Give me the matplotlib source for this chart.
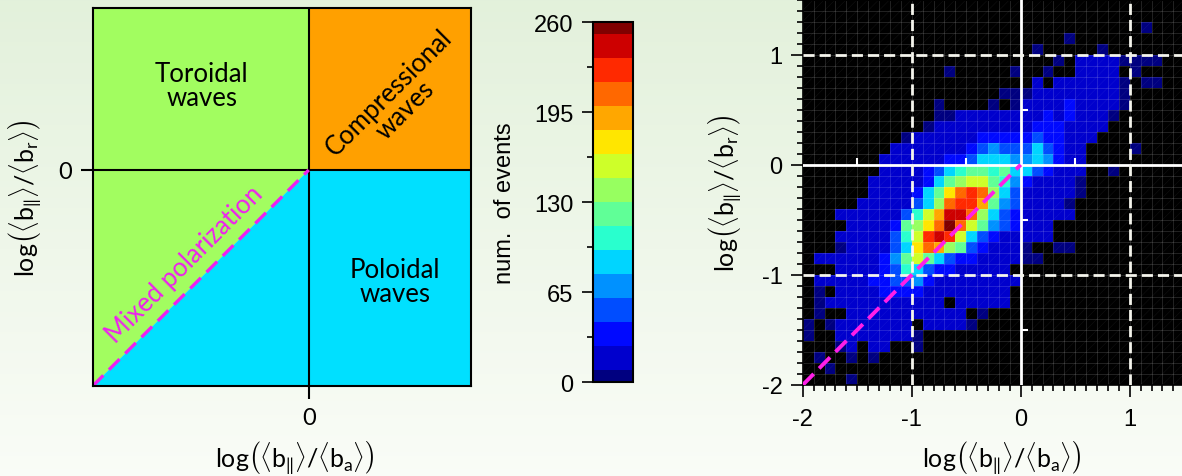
import numpy as np
import matplotlib
matplotlib.use('Agg')
import matplotlib.pyplot as plt
from matplotlib.colors import ListedColormap, BoundaryNorm
from matplotlib.ticker import MultipleLocator
from matplotlib.collections import LineCollection

plt.rcParams['font.family'] = 'Liberation Sans'
plt.rcParams['axes.unicode_minus'] = False
plt.rcParams['mathtext.fontset'] = 'custom'
plt.rcParams['mathtext.rm'] = 'Lato'
plt.rcParams['mathtext.it'] = 'Lato'
plt.rcParams['mathtext.sf'] = 'Lato'

# ---- data ----------------------------------------------------------------
# histogram bins: log(<b_par>/<b_a>) on x, log(<b_par>/<b_r>) on y, step 0.1
x_edges = np.round(np.arange(-2.0, 1.5001, 0.1), 2)
y_edges = np.round(np.arange(-2.0, 1.5001, 0.1), 2)

# number of events per bin, top row (y = 1.4..1.5) first, x from -2 to 1.5
counts_top_down = [
    [0,0,0,0,0,  0,0,0,0,0,  0,0,0,0,0,  0,0,0,0,0,  0,0,0,0,0,  0,0,0,0,0,  0,0,0,0,0],
    [0,0,0,0,0,  0,0,0,0,0,  0,0,0,0,0,  0,0,0,0,0,  0,0,0,0,0,  0,0,0,0,0,  0,0,0,0,0],
    [0,0,0,0,0,  0,0,0,0,0,  0,0,0,0,0,  0,0,0,0,0,  0,0,0,0,0,  0,0,0,0,0,  0,5,0,0,0],
    [0,0,0,0,0,  0,0,0,0,0,  0,0,0,0,0,  0,0,0,0,0,  0,0,0,0,5,  0,0,0,0,0,  0,0,0,0,0],
    [0,0,0,0,0,  0,0,0,0,0,  0,0,0,0,0,  0,0,0,0,0,  0,5,0,0,0,  0,0,5,0,0,  0,0,0,0,0],
    [0,0,0,0,0,  0,0,0,0,0,  0,0,0,0,0,  0,0,0,0,0,  0,0,0,5,0,  17,17,17,17,5,  5,5,5,0,0],
    [0,0,0,0,0,  0,0,0,0,0,  0,0,0,5,0,  0,0,0,0,5,  0,0,5,0,0,  17,17,17,17,0,  5,0,0,0,0],
    [0,0,0,0,0,  0,0,0,0,0,  0,0,0,0,0,  0,0,0,0,0,  0,17,0,17,17,  17,17,17,17,5,  0,5,5,0,0],
    [0,0,0,0,0,  0,0,0,0,0,  0,0,0,0,0,  0,0,0,5,5,  5,17,17,17,17,  17,17,17,17,5,  0,0,0,0,0],
    [0,0,0,0,0,  0,0,0,0,0,  0,0,5,0,0,  0,0,5,0,5,  17,17,17,17,35,  17,17,17,17,5,  0,0,0,0,0],
    [0,0,0,0,0,  0,0,0,0,0,  0,0,5,5,17,  17,17,17,17,17,  17,17,35,17,35,  17,17,17,5,0,  0,0,0,0,0],
    [0,0,0,0,0,  0,0,0,0,0,  0,5,17,17,17,  17,17,17,17,17,  17,35,35,35,17,  17,17,17,0,0,  0,0,0,0,0],
    [0,0,0,0,0,  0,0,0,0,5,  17,17,17,17,17,  17,35,35,35,35,  35,52,35,35,17,  17,17,0,0,0,  0,0,0,0,0],
    [0,0,0,0,0,  0,0,0,17,17,  17,17,17,17,17,  35,52,69,52,52,  52,87,52,35,17,  17,0,0,0,0,  5,0,0,0,0],
    [0,0,0,0,0,  0,0,17,17,17,  17,17,17,35,35,  52,87,87,87,69,  69,87,69,35,17,  17,0,0,0,0,  0,0,0,0,0],
    [0,0,0,0,0,  0,0,17,17,17,  17,35,52,87,104,  121,121,104,121,87,  87,52,35,17,17,  17,0,0,5,0,  0,0,0,0,0],
    [0,0,0,0,0,  0,17,17,17,17,  17,35,87,121,139,  156,156,121,104,69,  35,17,17,17,17,  5,0,0,0,0,  0,0,0,0,0],
    [0,0,0,0,0,  0,17,17,17,17,  35,87,121,173,208,  225,208,139,87,52,  17,17,17,17,17,  5,0,0,0,0,  0,0,0,0,0],
    [0,0,0,0,0,  17,17,17,17,17,  52,87,139,208,225,  225,191,121,69,52,  17,17,17,17,5,  0,0,0,0,0,  0,0,0,0,0],
    [0,0,0,17,17,  17,17,17,17,52,  104,156,191,243,243,  208,139,87,52,35,  17,17,17,17,17,  0,0,0,0,0,  0,0,0,0,0],
    [0,0,0,0,17,  17,17,17,35,121,  139,173,208,256,208,  156,121,69,52,35,  17,17,17,0,0,  0,0,0,0,0,  0,0,0,0,0],
    [0,0,0,17,17,  17,17,17,52,104,  156,225,243,225,156,  87,52,35,17,17,  17,17,17,0,0,  0,0,0,0,0,  0,0,0,0,0],
    [0,0,0,5,17,  17,17,17,52,87,  173,208,191,139,121,  52,35,17,17,17,  5,0,0,5,5,  0,0,0,0,0,  0,0,0,0,0],
    [0,17,17,17,17,  17,17,35,69,121,  156,121,87,52,35,  35,17,17,17,17,  5,5,0,0,0,  0,0,0,0,0,  0,0,0,0,0],
    [0,0,0,17,17,  17,17,35,52,104,  87,52,35,35,17,  17,17,17,17,0,  0,0,0,0,0,  0,0,0,0,0,  0,0,0,0,0],
    [0,17,17,17,17,  17,35,35,52,52,  69,35,17,17,17,  17,17,17,17,17,  0,0,0,0,0,  0,0,0,0,0,  0,0,0,0,0],
    [0,5,0,17,17,  17,17,35,35,35,  35,17,17,17,17,  17,17,17,17,0,  0,0,0,0,0,  0,0,0,0,0,  0,0,0,0,0],
    [0,5,17,17,17,  17,17,17,17,17,  17,17,17,0,17,  17,17,17,17,0,  0,0,0,0,0,  0,0,0,0,0,  0,0,0,0,0],
    [0,5,0,0,17,  17,17,17,17,17,  17,17,17,17,17,  0,5,0,0,0,  0,0,0,0,0,  0,0,0,0,0,  0,0,0,0,0],
    [5,0,5,17,17,  17,17,17,17,17,  0,17,17,17,17,  5,0,0,0,0,  0,0,0,0,0,  0,0,0,0,0,  0,0,0,0,0],
    [5,0,0,17,17,  17,17,17,17,17,  5,0,0,0,0,  0,0,0,0,0,  0,0,0,0,0,  0,0,0,0,0,  0,0,0,0,0],
    [0,0,0,5,17,  0,17,17,0,0,  5,0,0,0,0,  0,0,0,0,0,  0,0,0,0,0,  0,0,0,0,0,  0,0,0,0,0],
    [0,5,0,0,5,  0,5,0,0,0,  0,0,0,0,0,  0,0,0,0,0,  0,0,0,0,0,  0,0,0,0,0,  0,0,0,0,0],
    [0,0,5,0,0,  0,0,0,0,0,  0,0,0,0,0,  0,0,0,0,0,  0,0,0,0,0,  0,0,0,0,0,  0,0,0,0,0],
    [0,0,0,0,5,  0,0,0,0,0,  0,0,0,0,0,  0,0,0,0,0,  0,0,0,0,0,  0,0,0,0,0,  0,0,0,0,0],
]

cbar_ticks = [0, 65, 130, 195, 260]
cbar_max = 260
n_levels = 16

toroidal_color = '#a2fd60'
compress_color = '#ffa000'
poloidal_color = '#00e0ff'
magenta = '#ee22ee'

counts = np.array(counts_top_down[::-1], dtype=float)

# ---- figure --------------------------------------------------------------
fig = plt.figure(figsize=(11.82, 4.77), dpi=100)

# soft green-to-white background
bg = fig.add_axes([0, 0, 1, 1])
grad = np.linspace(0, 1, 256)[:, None]
top_c = np.array([0.89, 0.945, 0.86])
bot_c = np.array([0.98, 0.99, 0.97])
bg.imshow(top_c + grad[..., None] * (bot_c - top_c), aspect='auto',
          extent=[0, 1, 0, 1])
bg.axis('off')

xlab = (r'$\mathrm{log}\left(\langle\mathrm{b}_{\|}\rangle/'
        r'\langle\mathrm{b}_{\mathrm{a}}\rangle\right)$')
ylab = (r'$\mathrm{log}\left(\langle\mathrm{b}_{\|}\rangle/'
        r'\langle\mathrm{b}_{\mathrm{r}}\rangle\right)$')

# ---- left: sketch of the regions ----------------------------------------
ax1 = fig.add_axes([92.7 / 1182, 1 - 387 / 477, 378 / 1182, 378 / 477])
ax1.set_xlim(-2, 1.5)
ax1.set_ylim(-2, 1.5)
ax1.fill([-2, -2, 0, 0], [-2, 1.5, 1.5, 0], color=toroidal_color, lw=0)
ax1.fill([0, 1.5, 1.5, 0], [0, 0, 1.5, 1.5], color=compress_color, lw=0)
ax1.fill([-2, 0, 1.5, 1.5], [-2, 0, 0, -2], color=poloidal_color, lw=0)
ax1.axhline(0, color='black', lw=1.5)
ax1.axvline(0, color='black', lw=1.5)
ax1.plot([-2, 0], [-2, 0], color=magenta, lw=2.4, ls=(0, (4.5, 2.4)))
for s in ax1.spines.values():
    s.set_linewidth(1.5)
ax1.set_xticks([0])
ax1.set_yticks([0])
ax1.set_xticklabels(['0'], family='Lato', fontsize=17)
ax1.set_yticklabels(['0'], family='Lato', fontsize=17)
ax1.tick_params(length=9, width=1.5, pad=6)

ax1.text(-0.99, 0.78, 'Toroidal\nwaves', ha='center', va='center',
         fontsize=18.5, family='Lato', linespacing=0.95)
ax1.text(0.80, -1.03, 'Poloidal\nwaves', ha='center', va='center',
         fontsize=18.5, family='Lato', linespacing=0.95)
ax1.text(0.82, 0.64, 'Compressional\nwaves', ha='center', va='center',
         fontsize=18.5, family='Lato', linespacing=0.95, rotation=45)
ax1.text(-1.15, -0.87, 'Mixed polarization', ha='center', va='center',
         fontsize=18.5, family='Lato', color=magenta, rotation=45)

fig.text(295 / 1182, 1 - 458 / 477, xlab, ha='center', va='center', fontsize=18)
fig.text(25 / 1182, 1 - 198 / 477, ylab, ha='center', va='center', fontsize=18,
         rotation=90)

# ---- right: 2-D histogram ------------------------------------------------
jet = plt.get_cmap('jet')
cmap = ListedColormap(jet(np.linspace(0, 1, n_levels)))
step = cbar_max / (n_levels - 1)
bounds = np.concatenate([[0], step / 2 + step * np.arange(n_levels - 1), [cbar_max]])
norm = BoundaryNorm(bounds, n_levels)

ax2 = fig.add_axes([802.7 / 1182, 1 - 386 / 477, 381.5 / 1182, 385.5 / 477])
ax2.set_facecolor('black')
mesh = ax2.pcolormesh(x_edges, y_edges, np.ma.masked_equal(counts, 0),
                      cmap=cmap, norm=norm, zorder=1)
ax2.set_xlim(-2, 1.5)
ax2.set_ylim(-2, 1.5)

# faint grid and diagonal texture
ax2.xaxis.set_minor_locator(MultipleLocator(0.1))
ax2.yaxis.set_minor_locator(MultipleLocator(0.1))
ax2.grid(which='both', color='white', alpha=0.16, lw=0.6, zorder=2)
segs = [[(c - 4, -4), (c + 4, 4)] for c in np.arange(-4, 4, 0.1)]
ax2.add_collection(LineCollection(segs, colors=[(1, 1, 1, 0.06)], lw=0.5, zorder=2))

ax2.axhline(0, color='white', lw=2.0, zorder=3)
ax2.axvline(0, color='white', lw=2.0, zorder=3)
for v in [-1, 1]:
    ax2.axhline(v, color='#f4f4ec', lw=2.0, ls=(0, (4.0, 1.8)), zorder=3)
    ax2.axvline(v, color='#f4f4ec', lw=2.0, ls=(0, (4.0, 1.8)), zorder=3)
ax2.plot([-1.5, -0.5, 0.5], [0, 0, 0], ls='none', marker=2, ms=5,
         mew=1.5, color='white', zorder=3)
ax2.plot([0, 0, 0], [0.5, -0.5, -1.5], ls='none', marker=1, ms=5,
         mew=1.5, color='white', zorder=3)
ax2.plot([-2, 0], [-2, 0], color='#ff1ee8', lw=2.8, ls=(0, (4.0, 2.0)), zorder=4)

ax2.set_xticks([-2, -1, 0, 1])
ax2.set_yticks([-2, -1, 0, 1])
ax2.set_xticklabels(['-2', '-1', '0', '1'], fontsize=17)
ax2.set_yticklabels(['-2', '-1', '0', '1'], fontsize=17)
ax2.tick_params(which='major', length=8.5, width=1.2)
ax2.tick_params(axis='x', which='major', pad=8)
ax2.tick_params(axis='y', which='major', pad=6)
ax2.tick_params(which='minor', length=4.5, width=1.2)
for s in ['left', 'bottom']:
    ax2.spines[s].set_linewidth(1.2)
fig.text(1002 / 1182, 1 - 458 / 477, xlab, ha='center', va='center', fontsize=18)
fig.text(725 / 1182, 1 - 193 / 477, ylab, ha='center', va='center', fontsize=18,
         rotation=90)

# ---- colour bar ----------------------------------------------------------
cax = fig.add_axes([592.7 / 1182, 1 - 383.3 / 477, 40 / 1182, 360 / 477])
cb = fig.colorbar(mesh, cax=cax, ticks=cbar_ticks, spacing='proportional')
cb.outline.set_linewidth(1.5)
cax.yaxis.set_ticks_position('left')
cax.yaxis.set_label_position('left')
cax.yaxis.set_minor_locator(MultipleLocator(32.5))
cax.set_yticklabels([str(t) for t in cbar_ticks], fontsize=17)
cax.tick_params(which='major', length=8, width=1.2, pad=6)
cax.tick_params(which='minor', length=4, width=1.2)
fig.text(505 / 1182, 1 - 203 / 477, 'num.  of events', ha='center', va='center',
         fontsize=17, rotation=90)

fig.savefig('out.png', dpi=100)
